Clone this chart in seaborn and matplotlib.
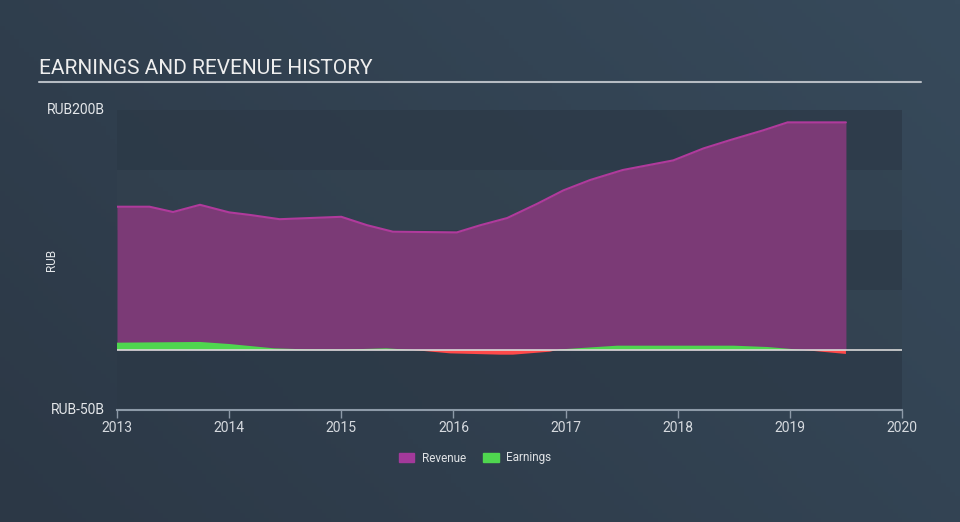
import numpy as np
import pandas as pd
import matplotlib
matplotlib.use("Agg")
import matplotlib.pyplot as plt
import seaborn as sns
from matplotlib.patches import Patch

# ---- data (RUB billions) ----
rev_years = [2013.0, 2013.29, 2013.5, 2013.74, 2014.0, 2014.19, 2014.45, 2015.0, 2015.23,
             2015.46, 2016.03, 2016.24, 2016.48, 2016.75, 2016.98, 2017.22, 2017.51,
             2017.96, 2018.23, 2018.47, 2018.76, 2018.98, 2019.5]
revenue = [119.4, 119.4, 115.0, 121.0, 114.7, 112.5, 109.0, 111.0, 104.0,
           98.6, 98.0, 104.0, 110.0, 122.0, 133.0, 141.7, 150.0,
           158.0, 168.0, 175.0, 183.0, 189.7, 189.7]
earn_years = [2013.0, 2013.74, 2014.0, 2014.4, 2014.7, 2015.0, 2015.4, 2015.64, 2015.97,
              2016.42, 2016.53, 2016.86, 2016.95, 2017.46, 2018.5, 2018.8, 2019.12, 2019.5]
earnings = [6.1, 6.7, 5.0, 1.4, 0.5, 0.3, 1.4, 0.0, -2.8,
            -3.9, -3.9, -1.4, 0.5, 3.6, 3.6, 2.5, 0.0, -3.3]
x_ticks = [2013, 2014, 2015, 2016, 2017, 2018, 2019, 2020]
y_labels = {200: "RUB200B", -50: "RUB-50B"}

rev_df = pd.DataFrame({"year": rev_years, "value": revenue})
earn_df = pd.DataFrame({"year": earn_years, "value": earnings})

sns.set_theme(style="dark")
plt.rcParams['font.family'] = ['Roboto', 'DejaVu Sans']

fig = plt.figure(figsize=(9.6, 5.22), dpi=100)

# gradient background
bg = fig.add_axes([0, 0, 1, 1])
gx = np.linspace(0, 1, 200)
gy = np.linspace(0, 1, 120)
GX, GY = np.meshgrid(gx, gy)
c0 = np.array([0x2c, 0x38, 0x46]) / 255
c1 = np.array([0x37, 0x4a, 0x5b]) / 255
t = np.clip(0.65 * GX + 0.35 * (1 - GY), 0, 1)[..., None]
img = c0 * (1 - t) + c1 * t
bg.imshow(img, aspect="auto", extent=[0, 1, 0, 1], origin="upper")
bg.set_axis_off()

ax = fig.add_axes([117 / 960, 1 - 410 / 522, 785 / 960, 300 / 522])
ax.set_facecolor("none")
ax.set_xlim(2013, 2020)
ax.set_ylim(-50, 200)

# horizontal bands
band_dark = "#2c3947"
for lo, hi in [(150, 200), (50, 100), (-50, 0)]:
    ax.axhspan(lo, hi, color=band_dark, alpha=0.75, lw=0, zorder=0)
for lo, hi in [(100, 150), (0, 50)]:
    ax.axhspan(lo, hi, color="#33424f", alpha=0.5, lw=0, zorder=0)

# revenue
ax.fill_between(rev_df["year"], rev_df["value"], 0, color="#7b3a76", lw=0, zorder=2)
sns.lineplot(data=rev_df, x="year", y="value", ax=ax, color="#b03a9c", lw=1.5, zorder=3)

# earnings
e = np.array(earnings)
ax.fill_between(earn_years, e, 0, where=e >= 0, interpolate=True, color="#4fd64f", lw=0, zorder=4)
ax.fill_between(earn_years, e, 0, where=e <= 0, interpolate=True, color="#ff4a4a", lw=0, zorder=4)

# zero line
ax.axhline(0, color="#d8d8d8", lw=1.2, zorder=5)

# axes styling
for s in ["top", "right", "left"]:
    ax.spines[s].set_visible(False)
ax.spines["bottom"].set_color("#8d9aa8")
ax.spines["bottom"].set_linewidth(1.5)
ax.set_xticks(x_ticks)
ax.set_xticklabels([str(v) for v in x_ticks], color="#d6dadf", fontsize=10)
ax.tick_params(axis="x", colors="#8d9aa8", length=6, width=1, direction="out", bottom=True, pad=2)
for lbl in ax.get_xticklabels():
    lbl.set_color("#d6dadf")
ax.set_yticks([])
ax.set_xlabel("")
ax.set_ylabel("")
ax.grid(False)
if ax.get_legend():
    ax.get_legend().remove()

for val, txt in y_labels.items():
    ax.text(-0.016, val, txt, transform=ax.get_yaxis_transform(), ha="right", va="center",
            color="#e4e7ea", fontsize=10)
fig.text(52 / 960, 1 - 260 / 522, "RUB", rotation=90, ha="center", va="center",
         color="#e4e7ea", fontsize=8.5)

# title
fig.text(39 / 960, 1 - 68 / 522, "EARNINGS AND REVENUE HISTORY", ha="left", va="center",
         color="#eeeeee", fontsize=15)
fig.add_artist(plt.Line2D([39 / 960, 921 / 960], [1 - 82 / 522, 1 - 82 / 522],
                          color="#b6bcc3", lw=1.5))

# legend
handles = [Patch(color="#a3399a", label="Revenue"), Patch(color="#4fd64f", label="Earnings")]
leg = fig.legend(handles=handles, loc="center", bbox_to_anchor=(475 / 960, 1 - 458 / 522),
                 ncol=2, frameon=False, fontsize=8.5, handlelength=1.3, handleheight=0.9,
                 columnspacing=1.5, handletextpad=0.6)
for t_ in leg.get_texts():
    t_.set_color("#e0e3e6")

fig.savefig("out.png", dpi=100)
